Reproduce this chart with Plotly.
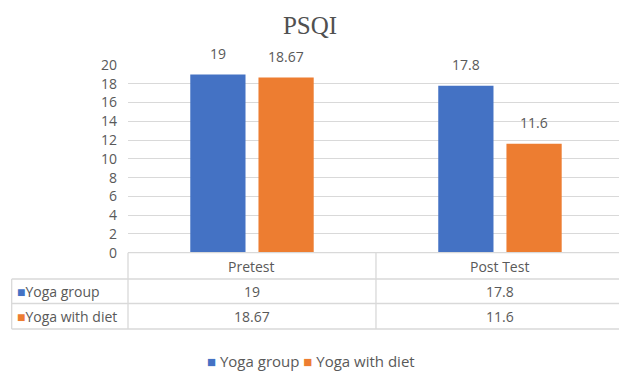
import plotly.graph_objects as go

categories = ["Pretest", "Post Test"]
series_names = ["Yoga group", "Yoga with diet"]
yoga_group = [19, 17.8]
yoga_with_diet = [18.67, 11.6]
value_labels_group = ["19", "17.8"]
value_labels_diet = ["18.67", "11.6"]
y_ticks = [0, 2, 4, 6, 8, 10, 12, 14, 16, 18, 20]
title_text = "PSQI"

W, H = 619, 372
BLUE = "#4472C4"
ORANGE = "#ED7D31"
GRID = "#D9D9D9"
TXT = "#595959"
FONT = "Open Sans"
FS = 14

def py(px):
    return (H - px) / H

def pxx(px):
    return px / W

fig = go.Figure()
series = [(series_names[0], yoga_group, value_labels_group, BLUE),
          (series_names[1], yoga_with_diet, value_labels_diet, ORANGE)]
for name, vals, labs, col in series:
    fig.add_trace(go.Bar(x=categories, y=vals, name=name, marker=dict(color=col, line=dict(width=0)),
                         hoverinfo="skip"))

annotations = []
# data labels
for i, (name, vals, labs, col) in enumerate(series):
    shift = -34 if i == 0 else 34
    for c, v, t in zip(categories, vals, labs):
        annotations.append(dict(x=c, y=v, xref="x", yref="y", text=t, showarrow=False,
                                xshift=shift, yshift=21, yanchor="middle",
                                font=dict(family=FONT, size=FS, color=TXT)))

# table text
row_y = [266, 291, 316]
for c in categories:
    annotations.append(dict(x=c, y=py(row_y[0]), xref="x", yref="paper", text=c, showarrow=False,
                            yanchor="middle", font=dict(family=FONT, size=FS, color=TXT)))
for r, (name, vals, labs, col) in enumerate(series):
    for c, t in zip(categories, labs):
        annotations.append(dict(x=c, y=py(row_y[r + 1]), xref="x", yref="paper", text=t, showarrow=False,
                                yanchor="middle", font=dict(family=FONT, size=FS, color=TXT)))
    annotations.append(dict(x=pxx(15), y=py(row_y[r + 1]), xref="paper", yref="paper",
                            text=f'<span style="color:{col}">■</span>{name}', showarrow=False,
                            xanchor="left", yanchor="middle",
                            font=dict(family=FONT, size=FS, color=TXT)))

# legend (drawn as text so it does not push the margins)
legend_text = " ".join(f'<span style="color:{col}">■</span> {name}' for name, _, _, col in series)
annotations.append(dict(x=pxx(311), y=py(361), xref="paper", yref="paper", text=legend_text,
                        showarrow=False, xanchor="center", yanchor="middle",
                        font=dict(family=FONT, size=15, color=TXT)))

shapes = []
def hline(x0, x1, y):
    shapes.append(dict(type="line", xref="paper", yref="paper", x0=pxx(x0), x1=pxx(x1),
                       y0=py(y), y1=py(y), line=dict(color=GRID, width=1.3)))
def vline(x, y0, y1, xref="paper"):
    xv = pxx(x) if xref == "paper" else x
    shapes.append(dict(type="line", xref=xref, yref="paper", x0=xv, x1=xv,
                       y0=py(y0), y1=py(y1), line=dict(color=GRID, width=1.3)))
hline(128, W, 252.7)
hline(11.7, W, 279)
hline(11.7, W, 303.5)
hline(11.7, W, 329)
vline(11.7, 279, 329)
vline(128, 252.7, 329)
vline(0.5, 252.7, 329, xref="x")

fig.update_layout(
    template="none",
    width=W, height=H,
    margin=dict(l=0, r=0, t=0, b=0, pad=0, autoexpand=False),
    paper_bgcolor="white", plot_bgcolor="white",
    barmode="group", bargap=0.45, bargroupgap=0.19,
    title=dict(text=title_text, x=pxx(310), xanchor="center", y=py(25), yanchor="middle",
               font=dict(family="Liberation Serif", size=25, color="#505050")),
    xaxis=dict(domain=[pxx(128), 1], range=[-0.5, 1.48], showticklabels=False, automargin=False,
               showgrid=False, zeroline=False, showline=False, ticks="", fixedrange=True),
    yaxis=dict(domain=[py(252.7), py(65)], range=[0, 20], tickvals=y_ticks, automargin=False,
               showgrid=True, gridcolor=GRID, gridwidth=1.3, zeroline=False, showline=False,
               ticks="", ticklabelstandoff=10,
               tickfont=dict(family=FONT, size=FS, color=TXT)),
    showlegend=False,
    annotations=annotations,
    shapes=shapes,
)

fig.write_html("out.html")
